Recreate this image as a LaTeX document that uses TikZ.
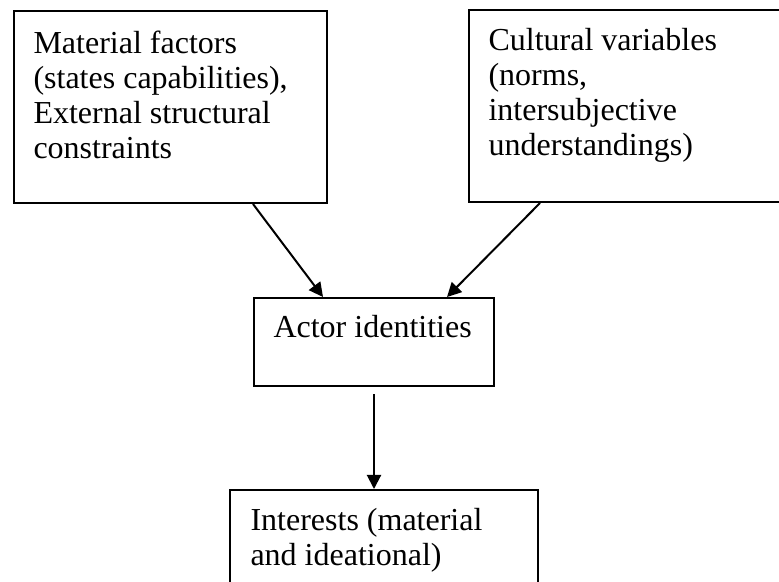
\documentclass[tikz,border=0pt]{standalone}
\usepackage{fontspec}
\setmainfont{Liberation Serif}
\usetikzlibrary{calc,arrows.meta}

\begin{document}
\begin{tikzpicture}[
  x=0.375pt,
  y=-0.375pt,
  line cap=butt,
  line join=miter,
  box/.style={draw,line width=0.75pt,inner sep=0pt,anchor=north west},
  boxtext/.style={inner sep=0pt,anchor=base west,align=left,
    font=\fontsize{12}{13.1}\selectfont},
  arr/.style={line width=0.75pt,-{Triangle[length=5.3pt,width=5.3pt]}}
]

\useasboundingbox (0,0) rectangle (779,581);

% ------------------------------------------------------------------
% Upper boxes (text placed by the baseline of its last line)
% ------------------------------------------------------------------
\node[box,minimum width=117.4pt,minimum height=72pt] (matbox) at (13,10) {};
\node[boxtext] (mattxt) at ($(matbox.north west)+(20,148)$)
  {Material factors\\(states capabilities),\\External structural\\constraints};

\node[box,minimum width=117.8pt,minimum height=72pt] (culbox) at (468,9) {};
\node[boxtext] (cultxt) at ($(culbox.north west)+(20,146)$)
  {Cultural variables\\(norms,\\intersubjective\\understandings)};

% ------------------------------------------------------------------
% Actor identities
% ------------------------------------------------------------------
\node[box,minimum width=90pt,minimum height=33pt] (actbox) at (253,297) {};
\node[boxtext] (acttxt) at ($(actbox.north west)+(20,40)$) {Actor identities};

% ------------------------------------------------------------------
% Interests
% ------------------------------------------------------------------
\node[box,minimum width=115.5pt,minimum height=45pt] (intbox) at (229,489) {};
\node[boxtext] (inttxt) at ($(intbox.north west)+(21,76)$)
  {Interests (material\\and ideational)};

% arrows
\draw[arr] ($(matbox.south west)+(240,0)$) -- ($(actbox.north west)+(70,0)$);
\draw[arr] ($(culbox.south west)+(72,0)$) -- ($(actbox.north west)+(194,0)$);
\draw[arr] ($(actbox.south)+(0,7)$) coordinate (dtop) -- (dtop |- intbox.north);

\end{tikzpicture}
\end{document}
